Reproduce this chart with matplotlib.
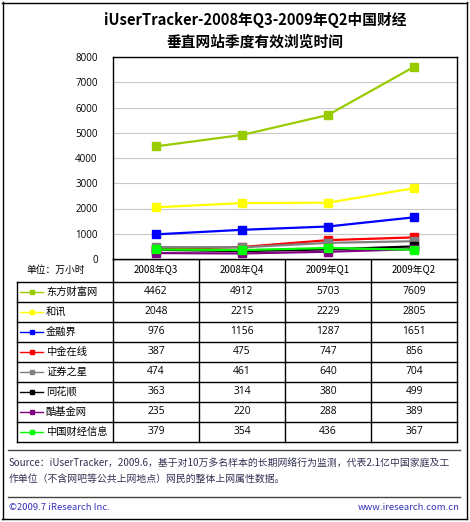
import matplotlib
matplotlib.use('Agg')
import matplotlib.pyplot as plt
from matplotlib.lines import Line2D

plt.rcParams['font.family'] = ['Noto Sans CJK SC', 'DejaVu Sans']

# data
quarters = ['2008年Q3', '2008年Q4', '2009年Q1', '2009年Q2']
sites = ['东方财富网', '和讯', '金融界', '中金在线', '证券之星', '同花顺', '酷基金网', '中国财经信息']
colors = ['#99CC00', '#FFFF00', '#0000FF', '#FF0000', '#808080', '#000000', '#800080', '#00FF00']
dfcf = [4462, 4912, 5703, 7609]
hexun = [2048, 2215, 2229, 2805]
jrj = [976, 1156, 1287, 1651]
cnfol = [387, 475, 747, 856]
stockstar = [474, 461, 640, 704]
ths = [363, 314, 380, 499]
kjj = [235, 220, 288, 389]
cfi = [379, 354, 436, 367]
values = [dfcf, hexun, jrj, cnfol, stockstar, ths, kjj, cfi]
yticks = [0, 1000, 2000, 3000, 4000, 5000, 6000, 7000, 8000]

W, H = 470, 522
fig = plt.figure(figsize=(W / 100, H / 100), dpi=100)

# overlay in pixel coords for frame, table, notes
ov = fig.add_axes([0, 0, 1, 1])
ov.set_xlim(0, W)
ov.set_ylim(H, 0)
ov.axis('off')

def hl(x0, x1, y, lw=1.0, c='black'):
    ov.add_line(Line2D([x0, x1], [y, y], color=c, lw=lw))

def vl(x, y0, y1, lw=1.0, c='black'):
    ov.add_line(Line2D([x, x], [y0, y1], color=c, lw=lw))

# outer border
hl(2, 467, 2.5); hl(2, 467, 519); vl(2.5, 2, 519); vl(467, 2, 519)

# title
ov.text(255, 20, 'iUserTracker-2008年Q3-2009年Q2中国财经', ha='center', va='center',
        fontsize=10.6, fontweight='bold')
ov.text(255, 42, '垂直网站季度有效浏览时间', ha='center', va='center',
        fontsize=10.6, fontweight='bold')

# chart
px0, px1, py0, py1 = 113, 457, 57, 259
ax = fig.add_axes([px0 / W, 1 - py1 / H, (px1 - px0) / W, (py1 - py0) / H])
x = range(len(quarters))
for v, c in zip(values, colors):
    ax.plot(x, v, color=c, lw=1.6, marker='s', markersize=5.5, markeredgecolor=c)
ax.set_xlim(-0.5, len(quarters) - 0.5)
ax.set_ylim(0, 8000)
ax.set_yticks(yticks)
ax.set_yticklabels([str(t) for t in yticks], fontsize=7, family=['Open Sans', 'DejaVu Sans'])
ax.set_xticks([])
ax.tick_params(axis='y', length=0, pad=11)
ax.grid(axis='y', color='#C8C8C8', lw=0.8)
ax.set_axisbelow(True)
for s in ax.spines.values():
    s.set_color('black')
    s.set_linewidth(1.0)

# table
cw = (px1 - px0) / len(quarters)
tl, hy0, hy1, rh = 17, 259, 282, 20
ov.text(56, 270, '单位：万小时', ha='center', va='center', fontsize=7)
hl(px0, px1, hy0)
for i, q in enumerate(quarters):
    ov.text(px0 + cw * (i + 0.5), (hy0 + hy1) / 2, q, ha='center', va='center', fontsize=7)
nrow = len(sites)
ybot = hy1 + rh * nrow
for r in range(nrow + 1):
    hl(tl, px1, hy1 + rh * r)
vl(tl, hy1, ybot)
for i in range(len(quarters) + 1):
    vl(px0 + cw * i, hy0, ybot)
for r, (name, c, v) in enumerate(zip(sites, colors, values)):
    yc = hy1 + rh * (r + 0.5)
    ov.add_line(Line2D([20, 43], [yc, yc], color=c, lw=1.0))
    ov.plot([32], [yc], marker='s', color=c, markersize=3.5)
    ov.text(46, yc, name, ha='left', va='center', fontsize=7.4)
    for i, val in enumerate(v):
        ov.text(px0 + cw * (i + 0.5), yc, str(val), ha='center', va='center', fontsize=7.4,
                family=['Open Sans', 'DejaVu Sans'])

# notes
hl(8, 460, 450, lw=1.0, c='#444444')
note_c = '#333355'
ov.text(9, 464, 'Source：iUserTracker，2009.6，基于对10万多名样本的长期网络行为监测，代表2.1亿中国家庭及工',
        ha='left', va='center', fontsize=7.1, color=note_c)
ov.text(9, 479, '作单位（不含网吧等公共上网地点）网民的整体上网属性数据。',
        ha='left', va='center', fontsize=7.1, color=note_c)
hl(8, 460, 497, lw=1.0, c='#444444')
ov.text(9, 508, '©2009.7 iResearch Inc.', ha='left', va='center', fontsize=6.8, color='#3333BB')
ov.text(460, 508, 'www.iresearch.com.cn', ha='right', va='center', fontsize=6.8, color='#3333BB')

fig.savefig('out.png', dpi=100)
